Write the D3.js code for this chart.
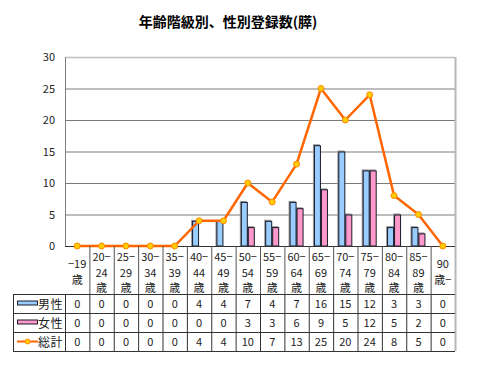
<!DOCTYPE html>
<html>
<head>
<meta charset="utf-8">
<script src="https://cdn.jsdelivr.net/npm/d3@7"></script>
<style>
  body { margin: 0; background: #fff; }
  svg { display: block; font-family: "Noto Sans CJK JP", "Liberation Sans", sans-serif; }
</style>
</head>
<body>
<div id="chart"></div>
<script>
const categories = ["-19歳", "20-24歳", "25-29歳", "30-34歳", "35-39歳", "40-44歳", "45-49歳", "50-54歳",
  "55-59歳", "60-64歳", "65-69歳", "70-74歳", "75-79歳", "80-84歳", "85-89歳", "90歳-"];
const categoryLines = [["−19", "歳"], ["20−", "24", "歳"], ["25−", "29", "歳"], ["30−", "34", "歳"], ["35−", "39", "歳"],
  ["40−", "44", "歳"], ["45−", "49", "歳"], ["50−", "54", "歳"], ["55−", "59", "歳"], ["60−", "64", "歳"],
  ["65−", "69", "歳"], ["70−", "74", "歳"], ["75−", "79", "歳"], ["80−", "84", "歳"], ["85−", "89", "歳"], ["90", "歳−"]];
const male = [0, 0, 0, 0, 0, 4, 4, 7, 4, 7, 16, 15, 12, 3, 3, 0];
const female = [0, 0, 0, 0, 0, 0, 0, 3, 3, 6, 9, 5, 12, 5, 2, 0];
const total = [0, 0, 0, 0, 0, 4, 4, 10, 7, 13, 25, 20, 24, 8, 5, 0];
const yTicks = [0, 5, 10, 15, 20, 25, 30];
const seriesNames = ["男性", "女性", "総計"];
const titleText = "年齢階級別、性別登録数(膵)";

(function () {
  const width = 480, height = 372;
  const plotLeft = 65, plotRight = 455, plotTop = 57, plotBottom = 246;
  const rowTops = [294, 313, 332, 351];
  const legendLeft = 13;

  const svg = d3.select("#chart").append("svg")
    .attr("width", width).attr("height", height);

  const x = d3.scaleBand().domain(categories).range([plotLeft, plotRight]).padding(0);
  const inner = d3.scaleBand().domain(["男性", "女性"]).range([-7, 7]).padding(0);
  const y = d3.scaleLinear().domain([0, 30]).range([plotBottom, plotTop]);

  // title
  svg.append("text")
    .attr("x", 228).attr("y", 27)
    .attr("text-anchor", "middle")
    .attr("font-size", 14).attr("font-weight", "bold")
    .attr("fill", "#000")
    .text(titleText);

  // grid
  const grid = svg.append("g");
  grid.selectAll("line").data(yTicks.filter(d => d > 0 && d < 30)).join("line")
    .attr("x1", plotLeft).attr("x2", plotRight)
    .attr("y1", d => y(d) + 0.5).attr("y2", d => y(d) + 0.5)
    .attr("stroke", "#7a7a7a").attr("stroke-width", 1);
  grid.append("line")
    .attr("x1", plotLeft).attr("x2", plotRight).attr("y1", y(30) + 0.5).attr("y2", y(30) + 0.5)
    .attr("stroke", "#c0c0c0").attr("stroke-width", 1.5);
  grid.append("line")
    .attr("x1", plotRight + 0.5).attr("x2", plotRight + 0.5).attr("y1", y(30)).attr("y2", rowTops[3])
    .attr("stroke", "#b8b8b8").attr("stroke-width", 2);
  grid.append("line")
    .attr("x1", plotLeft + 0.5).attr("x2", plotLeft + 0.5).attr("y1", y(30)).attr("y2", plotBottom)
    .attr("stroke", "#808080").attr("stroke-width", 1);

  // y axis labels
  svg.append("g").selectAll("text").data(yTicks).join("text")
    .attr("x", 55).attr("y", d => y(d) + 4)
    .attr("text-anchor", "end")
    .attr("font-size", 11).attr("fill", "#222")
    .text(d => d);

  // bars
  const barGroup = svg.append("g");
  const barData = [];
  categories.forEach((c, i) => {
    barData.push({ c, s: "男性", v: male[i], fill: "#99ccff" });
    barData.push({ c, s: "女性", v: female[i], fill: "#ff99cc" });
  });
  const barsDrawn = barData.filter(d => d.v > 0);
  barGroup.selectAll("rect.shadow").data(barsDrawn).join("rect")
    .attr("class", "shadow")
    .attr("x", d => x(d.c) + x.bandwidth() / 2 + inner(d.s) - 1)
    .attr("y", d => y(d.v) - 1)
    .attr("width", inner.bandwidth())
    .attr("height", d => y(0) - y(d.v) + 1)
    .attr("fill", "#9a9a9a");
  barGroup.selectAll("rect.bar").data(barsDrawn).join("rect")
    .attr("class", "bar")
    .attr("x", d => x(d.c) + x.bandwidth() / 2 + inner(d.s) + 0.5)
    .attr("y", d => y(d.v) + 0.5)
    .attr("width", inner.bandwidth() - 1)
    .attr("height", d => y(0) - y(d.v) - 0.5)
    .attr("fill", d => d.fill)
    .attr("stroke", "#1a1a2a").attr("stroke-width", 1);

  // x axis line
  svg.append("line")
    .attr("x1", plotLeft).attr("x2", plotRight).attr("y1", plotBottom + 0.5).attr("y2", plotBottom + 0.5)
    .attr("stroke", "#333").attr("stroke-width", 1);

  // total line
  const line = d3.line()
    .x((d, i) => x(categories[i]) + x.bandwidth() / 2)
    .y(d => y(d));
  svg.append("path").datum(total)
    .attr("d", line)
    .attr("fill", "none")
    .attr("stroke", "#ff6600").attr("stroke-width", 2.5)
    .attr("stroke-linejoin", "round");
  svg.append("g").selectAll("circle").data(total).join("circle")
    .attr("cx", (d, i) => x(categories[i]) + x.bandwidth() / 2)
    .attr("cy", d => y(d))
    .attr("r", 3)
    .attr("fill", "#ffcc00")
    .attr("stroke", "#ff8800").attr("stroke-width", 1);

  // category header (x labels)
  const header = svg.append("g");
  header.selectAll("line").data(categories.slice(1)).join("line")
    .attr("x1", d => x(d) + 0.5).attr("x2", d => x(d) + 0.5)
    .attr("y1", plotBottom).attr("y2", rowTops[0])
    .attr("stroke", "#555").attr("stroke-width", 1);
  categories.forEach((c, i) => {
    const lines = categoryLines[i];
    const cx = x(c) + x.bandwidth() / 2;
    const startY = lines.length === 3 ? 261 : 268;
    const t = header.append("text")
      .attr("text-anchor", "middle")
      .attr("font-size", 11).attr("fill", "#222");
    lines.forEach((ln, k) => {
      t.append("tspan").attr("x", cx).attr("y", startY + k * 15.5).text(ln);
    });
  });

  // data table
  const table = svg.append("g");
  const rows = [male, female, total];
  rowTops.forEach(ry => {
    table.append("line")
      .attr("x1", legendLeft).attr("x2", plotRight)
      .attr("y1", ry + 0.5).attr("y2", ry + 0.5)
      .attr("stroke", "#333").attr("stroke-width", 1);
  });
  const vx = [legendLeft, plotLeft].concat(categories.slice(1).map(c => x(c)));
  table.selectAll("line.v").data(vx).join("line")
    .attr("class", "v")
    .attr("x1", d => d + 0.5).attr("x2", d => d + 0.5)
    .attr("y1", rowTops[0]).attr("y2", rowTops[3])
    .attr("stroke", "#333").attr("stroke-width", 1);

  rows.forEach((vals, r) => {
    const ry = (rowTops[r] + rowTops[r + 1]) / 2;
    table.append("g").selectAll("text").data(vals).join("text")
      .attr("x", (d, i) => x(categories[i]) + x.bandwidth() / 2)
      .attr("y", ry + 4)
      .attr("text-anchor", "middle")
      .attr("font-size", 11).attr("fill", "#222")
      .text(d => d);
  });

  // legend keys
  const keyX0 = 17, keyX1 = 37;
  [0, 1].forEach(r => {
    const ry = (rowTops[r] + rowTops[r + 1]) / 2;
    table.append("rect")
      .attr("x", keyX0 + 0.5).attr("y", ry - 2.5)
      .attr("width", keyX1 - keyX0).attr("height", 4)
      .attr("fill", r === 0 ? "#99ccff" : "#ff99cc")
      .attr("stroke", "#1a1a2a").attr("stroke-width", 1);
  });
  const ry3 = (rowTops[2] + rowTops[3]) / 2;
  table.append("line")
    .attr("x1", keyX0).attr("x2", keyX1 + 1).attr("y1", ry3).attr("y2", ry3)
    .attr("stroke", "#ff6600").attr("stroke-width", 2);
  table.append("circle")
    .attr("cx", (keyX0 + keyX1) / 2 + 0.5).attr("cy", ry3).attr("r", 2.5)
    .attr("fill", "#ffcc00").attr("stroke", "#ff8800").attr("stroke-width", 1);
  seriesNames.forEach((name, r) => {
    const ry = (rowTops[r] + rowTops[r + 1]) / 2;
    table.append("text")
      .attr("x", 38).attr("y", ry + 5)
      .attr("font-size", 12).attr("fill", "#222")
      .attr("letter-spacing", 0.5)
      .text(name);
  });
})();
</script>
</body>
</html>
